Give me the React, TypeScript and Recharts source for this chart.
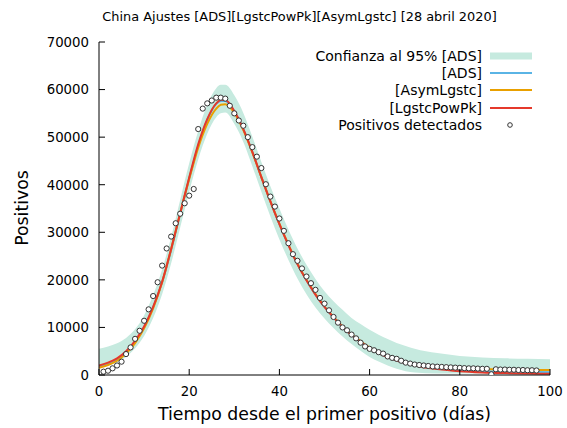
import { Area, ComposedChart, Line, XAxis, YAxis } from "recharts";

// dias de las curvas ajustadas
const fitDays = [0, 2, 4, 6, 8, 10, 12, 14, 16, 18, 20, 22, 24, 26, 27, 28, 30, 32, 34, 36, 38, 40, 42, 44, 46, 48, 50, 52, 54, 56, 58, 60, 62, 64, 66, 68, 70, 75, 80, 85, 90, 95, 100];

const lgstcPowPk = [2000, 2600, 3500, 5000, 7200, 10200, 14300, 19600, 26500, 34000, 41500, 48500, 53800, 57100, 57800, 57800, 55500, 51700, 46900, 41600, 36500, 31700, 27300, 23300, 19900, 16900, 14300, 12100, 10100, 8400, 7000, 5700, 4600, 3750, 3050, 2500, 2000, 1250, 800, 550, 400, 300, 250];
const asymLgstc = [1500, 2100, 3000, 4500, 6700, 9800, 14000, 19500, 26500, 34000, 41200, 47800, 52800, 56000, 56800, 56900, 55100, 51500, 46800, 41600, 36500, 31800, 27400, 23400, 20000, 17000, 14400, 12200, 10200, 8500, 7100, 5800, 4700, 3850, 3150, 2600, 2200, 1650, 1400, 1250, 1150, 1100, 1050];
const ads = [1800, 2400, 3300, 4800, 7000, 10000, 14200, 19500, 26300, 33900, 41300, 48200, 53600, 57000, 57600, 57600, 55400, 51700, 46900, 41600, 36500, 31700, 27300, 23300, 19900, 16900, 14300, 12100, 10100, 8400, 7000, 5700, 4600, 3750, 3050, 2500, 2050, 1350, 1000, 800, 700, 650, 600];
const bandLow = [1500, 2000, 2700, 3800, 5600, 8200, 12000, 17000, 23500, 31000, 38500, 45300, 50700, 54200, 55000, 55200, 52800, 49000, 43900, 38500, 33300, 28500, 24200, 20300, 17000, 14200, 11900, 9900, 8100, 6500, 5100, 3800, 2850, 2000, 1300, 800, 500, 300, 300, 300, 350, 400, 450];
const bandHigh = [5500, 6000, 6700, 7800, 9600, 12500, 16800, 22200, 29000, 36800, 44500, 51300, 56800, 60300, 61000, 61000, 58800, 55100, 50100, 44800, 39700, 35000, 30600, 26600, 23200, 20200, 17600, 15500, 13700, 12000, 10700, 9500, 8450, 7550, 6750, 6100, 5500, 4600, 4000, 3700, 3500, 3400, 3300];

// positivos detectados, dia 1 en adelante
const firstDay = 1;
const positivos = [700, 900, 1400, 2000, 2800, 4400, 5800, 7600, 9300, 11400, 13800, 16600, 19500, 23000, 26600, 29100, 31900, 33900, 36100, 37700, 39100, 51700, 56000, 57100, 57700, 58300, 58300, 58100, 56600, 55000, 53500, 52400, 50000, 47900, 45900, 43500, 40100, 37500, 35400, 32900, 30300, 27700, 25400, 24000, 22400, 20700, 19300, 17900, 16200, 15000, 13600, 12200, 11000, 10000, 9400, 8500, 7700, 6800, 6000, 5500, 5200, 4800, 4500, 3900, 3600, 3400, 3000, 2600, 2400, 2200, 2100, 2000, 1900, 1800, 1750, 1700, 1650, 1600, 1550, 1500, 1450, 1400, 1400, 1350, 1300, 1300, 150, 1200, 1150, 1150, 1100, 1100, 1050, 1050, 1000, 1000, 950];

const xTicks = [0, 20, 40, 60, 80, 100];
const yTicks = [0, 10000, 20000, 30000, 40000, 50000, 60000, 70000];

const rows: any[] = [];
for (let d = 0; d <= 100; d++) rows.push({ day: d });
fitDays.forEach((d, i) => {
    rows[d].red = lgstcPowPk[i];
    rows[d].orange = asymLgstc[i];
    rows[d].blue = ads[i];
    rows[d].band = [bandLow[i], bandHigh[i]];
});
positivos.forEach((v, i) => { rows[firstDay + i].pos = v; });

const FONT = "'DejaVu Sans', sans-serif";
const BAND = "#c6eadf";
const BLUE = "#5ab4e5";
const ORANGE = "#e9a000";
const RED = "#e5392b";

const BottomTick = ({ x, y, payload }: any) => (
    <g>
        <line x1={x} y1={y} x2={x} y2={y - 6} stroke="#000" />
        <text x={x} y={y + 20.5} textAnchor="middle" fontSize={13.3} fontFamily={FONT} fill="#000">{payload.value}</text>
    </g>
);
const TopTick = ({ x, y }: any) => <line x1={x} y1={y} x2={x} y2={y + 6} stroke="#000" />;
const LeftTick = ({ x, y, payload }: any) => (
    <g>
        <line x1={x} y1={y} x2={x + 6} y2={y} stroke="#000" />
        <text x={x - 10} y={y + 4.8} textAnchor="end" fontSize={13.3} fontFamily={FONT} fill="#000">{payload.value}</text>
    </g>
);
const RightTick = ({ x, y }: any) => <line x1={x} y1={y} x2={x - 6} y2={y} stroke="#000" />;

const legendItems = [
    { label: "Confianza al 95% [ADS]", kind: "band", color: BAND },
    { label: "[ADS]", kind: "line", color: BLUE },
    { label: "[AsymLgstc]", kind: "line", color: ORANGE },
    { label: "[LgstcPowPk]", kind: "line", color: RED },
    { label: "Positivos detectados", kind: "dot", color: "#333" },
];

export default function App() {
    return (
        <div style={{ position: "absolute", left: 0, top: 0, width: 567, height: 428, background: "#fff", fontFamily: FONT }}>
            <ComposedChart width={567} height={428} data={rows} margin={{ top: 42, right: 17, bottom: 0, left: 0 }}>
                <XAxis xAxisId={0} dataKey="day" type="number" domain={[0, 100]} ticks={xTicks} allowDataOverflow
                    height={53} tickSize={0} tickMargin={0} tickLine={false} axisLine={{ stroke: "#000" }} tick={<BottomTick />} />
                <XAxis xAxisId="top" orientation="top" dataKey="day" type="number" domain={[0, 100]} ticks={xTicks}
                    height={0} tickSize={0} tickMargin={0} tickLine={false} axisLine={{ stroke: "#000" }} tick={<TopTick />} />
                <YAxis yAxisId={0} type="number" domain={[0, 70000]} ticks={yTicks} allowDataOverflow
                    width={99} tickSize={0} tickMargin={0} tickLine={false} axisLine={{ stroke: "#000" }} tick={<LeftTick />} />
                <YAxis yAxisId="right" orientation="right" type="number" domain={[0, 70000]} ticks={yTicks}
                    width={0} tickSize={0} tickMargin={0} tickLine={false} axisLine={{ stroke: "#000" }} tick={<RightTick />} />
                <Area dataKey="band" type="monotone" fill={BAND} fillOpacity={1} stroke="none" connectNulls isAnimationActive={false} />
                <Line dataKey="blue" type="monotone" stroke={BLUE} strokeWidth={2} dot={false} connectNulls isAnimationActive={false} />
                <Line dataKey="orange" type="monotone" stroke={ORANGE} strokeWidth={2} dot={false} connectNulls isAnimationActive={false} />
                <Line dataKey="red" type="monotone" stroke={RED} strokeWidth={2} dot={false} connectNulls isAnimationActive={false} />
                <Line dataKey="pos" stroke="none" isAnimationActive={false}
                    dot={{ r: 2.6, fill: "#fff", stroke: "#333", strokeWidth: 1 }} activeDot={false} />
            </ComposedChart>
            <div style={{ position: "absolute", left: 0, width: 567, top: 9, paddingLeft: 32, boxSizing: "border-box", textAlign: "center", fontSize: 12.9, color: "#000" }}>
                China Ajustes [ADS][LgstcPowPk][AsymLgstc] [28 abril 2020]
            </div>
            <div style={{ position: "absolute", left: 99, width: 451, top: 404, textAlign: "center", fontSize: 17.3, color: "#000" }}>
                Tiempo desde el primer positivo (días)
            </div>
            <div style={{ position: "absolute", left: 22, top: 208, transform: "translate(-50%, -50%) rotate(-90deg)", fontSize: 17.3, color: "#000", whiteSpace: "nowrap" }}>
                Positivos
            </div>
            <div style={{ position: "absolute", left: 240, top: 47, width: 300 }}>
                {legendItems.map((it) => (
                    <div key={it.label} style={{ display: "flex", alignItems: "center", justifyContent: "flex-end", height: 17.3, fontSize: 14, color: "#000" }}>
                        <span style={{ marginRight: 8 }}>{it.label}</span>
                        <svg width={42} height={12} style={{ marginRight: 8 }}>
                            {it.kind === "band" && <rect x={0} y={2.5} width={42} height={7} fill={it.color} />}
                            {it.kind === "line" && <line x1={0} y1={6} x2={42} y2={6} stroke={it.color} strokeWidth={2} />}
                            {it.kind === "dot" && <circle cx={20} cy={6} r={2.3} fill="#fff" stroke={it.color} strokeWidth={1} />}
                        </svg>
                    </div>
                ))}
            </div>
        </div>
    );
}
